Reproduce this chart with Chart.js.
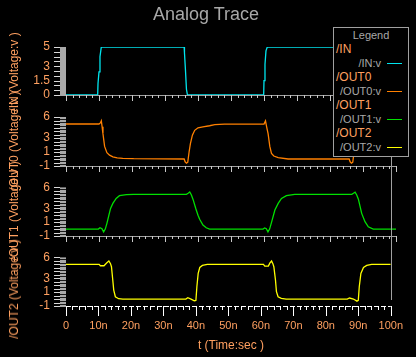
<!DOCTYPE html>
<html><head><meta charset="utf-8">
<script src="https://cdn.jsdelivr.net/npm/chart.js@4"></script>
<style>
html,body{margin:0;padding:0;background:#000;width:416px;height:357px;overflow:hidden;}
#wrap{position:relative;width:416px;height:357px;}
#wrap canvas{position:absolute;left:0;top:0;}
.t{position:absolute;white-space:nowrap;font-family:'Liberation Sans',Arial,sans-serif;}
.n{font-family:'Liberation Sans Narrow','Liberation Sans',Arial,sans-serif;}
</style></head>
<body><div id="wrap"></div>
<script>
// ---- data ----
const X_TICKS = [0,10,20,30,40,50,60,70,80,90,100];
const X_TICK_LABELS = ['0','10n','20n','30n','40n','50n','60n','70n','80n','90n','100n'];
const Y_TICKS_IN = [0,1.5,3,5];
const Y_TICKS_OUT = [-1,1,3,6];
const SERIES_NAMES = ['/IN','/OUT0','/OUT1','/OUT2'];
const SIGNAL_LABELS = ['/IN:v','/OUT0:v','/OUT1:v','/OUT2:v'];
const AXIS_TITLES = ['/IN (Voltage:v )','/OUT0 (Voltage:v )','/OUT1 (Voltage:v )','/OUT2 (Voltage:v )'];
const CHART_TITLE = 'Analog Trace';
const X_TITLE = 't (Time:sec )';
const LEGEND_TITLE = 'Legend';

const IN_T = [0,9.6,9.7,10.0,10.3,10.7,35.8,35.9,36.2,36.5,36.8,59.9,60.0,60.3,60.6,61.0,85.8,85.9,86.2,86.5,86.8,100];
const IN_V = [0,0,1.2,2.4,4.0,5,5,4.4,2.6,0.6,0,0,1.5,3.2,4.6,5,5,4.4,2.6,0.6,0,0];

const OUT0_T = [0,10.0,10.4,10.7,10.95,11.2,11.7,12.4,13.2,14.2,15.5,17.2,20.5,
  35.8,36.1,36.5,36.9,37.3,37.7,38.3,39.0,40.0,41.5,43.5,45.1,48,
  60.0,60.45,60.8,61.25,61.76,62.27,62.97,64.3,67.3,
  85.8,86.1,86.5,86.9,87.3,87.7,88.3,89.0,90.0,91.5,93.5,95.1,98,100];
const OUT0_V = [5.0,5.0,5.15,5.45,4.6,3.6,1.8,0.9,0.55,0.3,0.15,0.1,0.05,
  0,-0.4,-0.6,-0.45,1.0,2.2,3.4,4.1,4.45,4.6,4.75,4.9,4.97,
  5.0,5.45,4.6,3.6,1.8,0.8,0.43,0.19,0,
  0,-0.4,-0.6,-0.45,1.0,2.2,3.4,4.1,4.45,4.6,4.75,4.9,4.97,5.0];

const OUT1_T = [0,9.8,10.3,10.9,11.4,11.9,12.4,13.0,13.5,14.2,15.2,16.2,18.3,20.5,
  36.5,37.0,37.5,38.0,38.5,39.3,40.0,40.5,41.5,42.5,43.5,
  59.7,60.2,60.7,61.2,61.7,62.3,63.3,64.3,65.3,66.8,69.3,
  86.6,87.1,87.6,88.1,88.6,89.6,90.6,91.6,93.1,100];
const OUT1_V = [0,0,0.2,0.05,-0.4,0,0.82,2.0,2.98,3.7,4.42,4.8,4.95,5,
  5,5.15,5.33,4.9,4.27,3.0,2.0,1.4,0.58,0.19,0,
  0,0.15,0.05,-0.4,0,1.0,2.74,3.7,4.4,4.8,5,
  5,5.15,5.3,4.9,4.3,2.26,1.06,0.33,0,0];

const OUT2_T = [0,10.2,10.6,11.7,12.5,13.2,13.7,14.0,14.4,14.7,15.2,16.2,17.5,
  36.9,37.5,38.5,39.5,40.0,40.3,40.7,41.2,42.0,43.5,
  60.8,61.2,62.3,62.8,63.3,63.7,64.0,64.5,64.8,65.3,66.3,67.8,
  86.6,87.3,88.5,89.6,90.0,90.3,90.8,91.6,92.6,94.1,100];
const OUT2_V = [5,5,4.8,4.8,5.2,5.48,5.1,4.66,2.74,1.3,0.33,0.05,0,
  0,0.19,0.0,-0.24,-0.2,1.78,3.7,4.56,4.85,5.0,
  5,4.75,4.75,5.2,5.48,5.1,4.66,2.74,1.06,0.33,0.1,0,
  0,0.15,0,-0.3,-0.2,1.78,3.7,4.56,4.85,5.0,5.0];

const SERIES_T = [IN_T, OUT0_T, OUT1_T, OUT2_T];
const SERIES_V = [IN_V, OUT0_V, OUT1_V, OUT2_V];
const SERIES_COLORS = ['#00e5ee','#ff8000','#00e000','#ffff00'];

// ---- layout / style ----
const W = 416, H = 357;
const ORANGE = '#ffa060', GRAY = '#a8a8a8';
const NARROW = "'Liberation Sans Narrow','Liberation Sans',Arial,sans-serif";
const AREAS = [
  {top:47, bottom:95, yMin:0, yMax:5, yTicks:Y_TICKS_IN, titleY:72},
  {top:117, bottom:166, yMin:-1, yMax:6, yTicks:Y_TICKS_OUT, titleY:141},
  {top:187.4, bottom:236, yMin:-1, yMax:6, yTicks:Y_TICKS_OUT, titleY:211},
  {top:257.4, bottom:306, yMin:-1, yMax:6, yTicks:Y_TICKS_OUT, titleY:289}
];

const deco = {
  id:'deco',
  afterDraw(chart, args, o){
    const ctx = chart.ctx, a = chart.chartArea, xs = chart.scales.x, ys = chart.scales.y;
    ctx.save();
    ctx.lineWidth = 1;
    ctx.fillStyle = '#a9a9a9';
    ctx.fillRect(a.left-6, a.top, 6, a.bottom - a.top + 1);
    for (let v = ys.min; v <= ys.max + 1e-6; v += 0.5) {
      const y = Math.round(ys.getPixelForValue(v)) + 0.5;
      ctx.strokeStyle = '#d8d8d8';
      ctx.beginPath(); ctx.moveTo(a.left-12, y); ctx.lineTo(a.left-6, y); ctx.stroke();
      if (o.striped && v < ys.max - 1e-6) {
        const y2 = Math.round(ys.getPixelForValue(v + 0.25)) + 0.5;
        ctx.strokeStyle = '#1a1a1a';
        ctx.beginPath(); ctx.moveTo(a.left-6, y2); ctx.lineTo(a.left, y2); ctx.stroke();
      }
    }
    ctx.strokeStyle = o.last ? '#ffffff' : '#c8c8c8';
    for (let v = xs.min; v <= xs.max + 1e-6; v += 2) {
      const x = Math.round(xs.getPixelForValue(v)) + 0.5;
      const major = Math.abs(v % 10) < 1e-6;
      const len = o.last ? (major ? 10 : 4) : (major ? 6 : 3);
      ctx.beginPath(); ctx.moveTo(x, a.bottom); ctx.lineTo(x, a.bottom + len); ctx.stroke();
    }
    if (o.last) {
      const y = Math.round(a.bottom) + 0.5;
      ctx.setLineDash([5,2]);
      ctx.beginPath(); ctx.moveTo(a.left, y); ctx.lineTo(a.right, y); ctx.stroke();
      ctx.setLineDash([]);
      ctx.strokeStyle = '#a0a0a0';
      const xr = Math.round(a.right) + 0.5;
      ctx.beginPath(); ctx.moveTo(xr, 27); ctx.lineTo(xr, a.bottom - 6); ctx.stroke();
    }
    ctx.restore();
  }
};

const wrap = document.getElementById('wrap');
AREAS.forEach((p, i) => {
  const cv = document.createElement('canvas');
  cv.width = W; cv.height = H;
  wrap.appendChild(cv);
  const last = i === AREAS.length - 1;
  const xh = last ? 40 : 0;
  new Chart(cv, {
    type:'line',
    data:{datasets:[{
      label:SIGNAL_LABELS[i],
      data:SERIES_T[i].map((t,k)=>({x:t, y:SERIES_V[i][k]})),
      borderColor:SERIES_COLORS[i], borderWidth:1.3, pointRadius:0, tension:0, fill:false
    }]},
    options:{
      responsive:false, animation:false, devicePixelRatio:1, events:[],
      layout:{padding:{top:p.top, bottom:H - p.bottom - xh, left:0, right:20}},
      plugins:{legend:{display:false}, tooltip:{enabled:false}, title:{display:false},
               deco:{last:last, striped:i>0}},
      scales:{
        x:{type:'linear', min:0, max:100,
           afterFit:s=>{s.height = xh;},
           afterBuildTicks:s=>{s.ticks = X_TICKS.map(v=>({value:v}));},
           grid:{display:false, drawTicks:false},
           border:{display:!last, color:'#a0a0a0', width:1},
           ticks:{display:last, color:ORANGE, font:{family:NARROW, size:11}, padding:13,
                  maxRotation:0, autoSkip:false, callback:(v,k)=>X_TICK_LABELS[k]}},
        y:{type:'linear', min:p.yMin, max:p.yMax,
           afterFit:s=>{s.width = 66;},
           afterBuildTicks:s=>{s.ticks = p.yTicks.map(v=>({value:v}));},
           grid:{display:false, drawTicks:false}, border:{display:false},
           ticks:{color:ORANGE, font:{family:NARROW, size:12}, padding:16, autoSkip:false,
                  callback:v=>String(v)}}
      }
    },
    plugins:[deco]
  });
  const tt = document.createElement('div');
  tt.className = 't';
  tt.textContent = AXIS_TITLES[i];
  tt.style.cssText = 'left:14px;top:'+p.titleY+'px;font-size:12px;line-height:12px;color:'+ORANGE+
    ';transform:translate(-50%,-50%) rotate(-90deg);';
  wrap.appendChild(tt);
});

// main title
const title = document.createElement('div');
title.className = 't';
title.textContent = CHART_TITLE;
title.style.cssText = 'left:106px;width:200px;text-align:center;top:5px;font-size:18px;line-height:18px;color:'+GRAY+';';
wrap.appendChild(title);

// x title
const xt = document.createElement('div');
xt.className = 't';
xt.textContent = X_TITLE;
xt.style.cssText = 'left:131px;width:200px;text-align:center;top:339px;font-size:12px;line-height:12px;color:'+ORANGE+';';
wrap.appendChild(xt);

// legend box
const lg = document.createElement('div');
lg.style.cssText = 'position:absolute;left:333px;top:27px;width:76px;height:130px;box-sizing:border-box;border:1px solid #a0a0a0;background:#000;';
wrap.appendChild(lg);
const lh = document.createElement('div');
lh.className = 't n';
lh.textContent = LEGEND_TITLE;
lh.style.cssText = 'left:0;width:74px;text-align:center;top:0px;font-size:11px;line-height:14px;color:'+GRAY+';';
lg.appendChild(lh);
SERIES_NAMES.forEach((nm, k) => {
  const y1 = 21 + 28*k, y2 = 35 + 28*k;   // row centres inside the box
  const g = document.createElement('div');
  g.className = 't n';
  g.textContent = nm;
  g.style.cssText = 'left:2px;top:'+(y1-7)+'px;font-size:12px;line-height:14px;color:'+ORANGE+';';
  lg.appendChild(g);
  const s = document.createElement('div');
  s.className = 't n';
  s.textContent = SIGNAL_LABELS[k];
  s.style.cssText = 'right:27px;top:'+(y2-7)+'px;font-size:11px;line-height:14px;color:'+GRAY+';';
  lg.appendChild(s);
  const ln = document.createElement('div');
  ln.style.cssText = 'position:absolute;left:53px;width:15px;height:1px;top:'+y2+'px;background:'+SERIES_COLORS[k]+';';
  lg.appendChild(ln);
});
</script>
</body></html>
